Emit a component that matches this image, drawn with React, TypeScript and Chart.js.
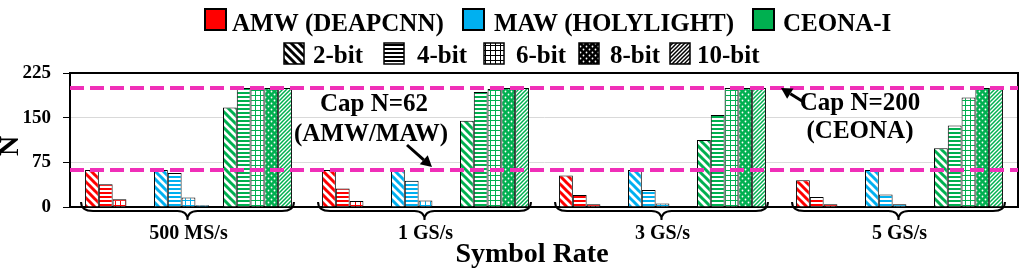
import React, { useEffect, useRef } from 'react';
import { Chart, registerables } from 'chart.js';

Chart.register(...registerables);

const SERIF = '"Liberation Serif", "Times New Roman", serif';

const categories = ['500 MS/s', '1 GS/s', '3 GS/s', '5 GS/s'];
const bitLabels = ['2-bit', '4-bit', '6-bit', '8-bit', '10-bit'];
const methodLabels = ['AMW (DEAPCNN)', 'MAW (HOLYLIGHT)', 'CEONA-I'];
const methodColors = ['#FF0000', '#00B0F0', '#00B050'];

// AMW (DEAPCNN)
const amw2 = [62, 62, 53, 45];
const amw4 = [38, 31, 20, 17];
const amw6 = [13, 10, 4.5, 4.5];
const amw8 = [0, 0, 0, 0];
const amw10 = [0, 0, 0, 0];
// MAW (HOLYLIGHT)
const maw2 = [62, 62, 62, 62];
const maw4 = [57, 44, 28.5, 21];
const maw6 = [16, 11, 6, 4.5];
const maw8 = [3, 0, 0, 0];
const maw10 = [0, 0, 0, 0];
// CEONA-I
const ceona2 = [167, 145, 112.5, 98.5];
const ceona4 = [200, 193, 154.5, 137];
const ceona6 = [200, 198, 200, 184];
const ceona8 = [200, 200, 200, 200];
const ceona10 = [200, 200, 200, 200];

const yTicks = [0, 75, 150, 225];
const capAMW = 62;
const capCEONA = 200;
const CAP_COLOR = '#F02FB8';

const seriesTable = [
  [amw2, amw4, amw6, amw8, amw10],
  [maw2, maw4, maw6, maw8, maw10],
  [ceona2, ceona4, ceona6, ceona8, ceona10],
];

function makeTile(size: number, draw: (g: CanvasRenderingContext2D, s: number) => void) {
  const c = document.createElement('canvas');
  c.width = size;
  c.height = size;
  const g = c.getContext('2d')!;
  draw(g, size);
  return c;
}

function makePattern(ctx: CanvasRenderingContext2D, kind: number, color: string): CanvasPattern {
  let tile: HTMLCanvasElement;
  if (kind === 0) {
    tile = makeTile(8, (g, s) => {
      g.fillStyle = '#fff';
      g.fillRect(0, 0, s, s);
      g.strokeStyle = color;
      g.lineWidth = 3;
      g.beginPath();
      for (const k of [-s, 0, s]) {
        g.moveTo(k - 1, -1);
        g.lineTo(k + s + 1, s + 1);
      }
      g.stroke();
    });
  } else if (kind === 1) {
    tile = makeTile(4, (g, s) => {
      g.fillStyle = '#fff';
      g.fillRect(0, 0, s, s);
      g.fillStyle = color;
      g.fillRect(0, 0, s, 2);
    });
  } else if (kind === 2) {
    tile = makeTile(5, (g, s) => {
      g.fillStyle = '#fff';
      g.fillRect(0, 0, s, s);
      g.fillStyle = color;
      g.fillRect(0, 0, s, 1);
      g.fillRect(0, 0, 1, s);
    });
  } else if (kind === 3) {
    tile = makeTile(6, (g, s) => {
      g.fillStyle = color;
      g.fillRect(0, 0, s, s);
      g.fillStyle = '#fff';
      g.beginPath();
      g.arc(1.5, 1.5, 0.9, 0, Math.PI * 2);
      g.arc(4.5, 4.5, 0.9, 0, Math.PI * 2);
      g.fill();
    });
  } else {
    tile = makeTile(4, (g, s) => {
      g.fillStyle = '#fff';
      g.fillRect(0, 0, s, s);
      g.strokeStyle = color;
      g.lineWidth = 1.5;
      g.beginPath();
      for (const k of [-s, 0, s]) {
        g.moveTo(k - 1, s + 1);
        g.lineTo(k + s + 1, -1);
      }
      g.stroke();
    });
  }
  return ctx.createPattern(tile, 'repeat')!;
}

function arrow(ctx: CanvasRenderingContext2D, x0: number, y0: number, x1: number, y1: number) {
  const ang = Math.atan2(y1 - y0, x1 - x0);
  const hl = 11;
  const hw = 6;
  const bx = x1 - hl * Math.cos(ang);
  const by = y1 - hl * Math.sin(ang);
  ctx.strokeStyle = '#000';
  ctx.fillStyle = '#000';
  ctx.lineWidth = 3;
  ctx.beginPath();
  ctx.moveTo(x0, y0);
  ctx.lineTo(bx, by);
  ctx.stroke();
  ctx.beginPath();
  ctx.moveTo(x1, y1);
  ctx.lineTo(bx + hw * Math.sin(ang), by - hw * Math.cos(ang));
  ctx.lineTo(bx - hw * Math.sin(ang), by + hw * Math.cos(ang));
  ctx.closePath();
  ctx.fill();
}

const CAT_PCT = 0.873;

export default function App() {
  const ref = useRef<HTMLCanvasElement>(null);

  useEffect(() => {
    const canvas = ref.current!;
    const ctx = canvas.getContext('2d')!;

    const datasets: any[] = [];
    seriesTable.forEach((row, m) => {
      row.forEach((vals, b) => {
        datasets.push({
          label: `${methodLabels[m]} ${bitLabels[b]}`,
          data: vals,
          backgroundColor: makePattern(ctx, b, methodColors[m]),
          borderColor: '#000',
          borderWidth: 1,
          categoryPercentage: CAT_PCT,
          barPercentage: 1,
        });
      });
    });

    const blackPatterns = bitLabels.map((_, b) => makePattern(ctx, b, '#000'));

    const extras = {
      id: 'extras',
      afterDraw(chart: any) {
        const c: CanvasRenderingContext2D = chart.ctx;
        const a = chart.chartArea;
        const xs = chart.scales.x;
        const ys = chart.scales.y;
        c.save();

        // frame top/right
        c.strokeStyle = '#000';
        c.lineWidth = 2;
        c.beginPath();
        c.moveTo(a.left - 1, a.top);
        c.lineTo(a.right, a.top);
        c.lineTo(a.right, a.bottom);
        c.stroke();

        // dashed cap lines
        c.strokeStyle = CAP_COLOR;
        c.lineWidth = 4;
        c.setLineDash([14, 6]);
        for (const v of [capAMW, capCEONA]) {
          const y = ys.getPixelForValue(v);
          c.beginPath();
          c.moveTo(a.left, y);
          c.lineTo(a.right, y);
          c.stroke();
        }
        c.setLineDash([]);

        // braces under categories
        const catW = (a.right - a.left) / categories.length;
        const half = (catW * CAT_PCT) / 2 + 3;
        const yb = a.bottom;
        c.strokeStyle = '#000';
        c.lineWidth = 2;
        categories.forEach((_, i) => {
          const xm = xs.getPixelForValue(i) - 1;
          const x0 = xm - half;
          const x1 = xm + half;
          const yt = yb - 5;
          const yh = yb + 4;
          const yp = yb + 13;
          c.beginPath();
          c.moveTo(x0, yt);
          c.quadraticCurveTo(x0, yh, x0 + 12, yh);
          c.lineTo(xm - 10, yh);
          c.quadraticCurveTo(xm, yh, xm, yp);
          c.quadraticCurveTo(xm, yh, xm + 10, yh);
          c.lineTo(x1 - 12, yh);
          c.quadraticCurveTo(x1, yh, x1, yt);
          c.stroke();
        });

        // annotations
        c.fillStyle = '#000';
        c.font = `bold 25px ${SERIF}`;
        c.textAlign = 'center';
        c.textBaseline = 'alphabetic';
        c.fillText('Cap N=62', 374, 111);
        c.fillText('(AMW/MAW)', 371, 141);
        c.fillText('Cap N=200', 860, 110);
        c.fillText('(CEONA)', 860, 138);
        const yAmw = ys.getPixelForValue(capAMW);
        const yCeo = ys.getPixelForValue(capCEONA);
        arrow(c, 407, 145, 432, yAmw - 3);
        arrow(c, 802, 101, 781, yCeo);

        // y title
        c.save();
        c.translate(18, 146);
        c.rotate(-Math.PI / 2);
        c.font = `bold 28px ${SERIF}`;
        c.textAlign = 'center';
        c.fillText('N', 0, 0);
        c.restore();

        // x title
        c.font = `bold 28px ${SERIF}`;
        c.textAlign = 'center';
        c.fillText('Symbol Rate', 532, 262);

        // legend row 1
        const row1Box = [204, 462, 752];
        const row1Text = [232, 494, 783];
        c.textAlign = 'left';
        c.font = `bold 25px ${SERIF}`;
        methodLabels.forEach((lab, m) => {
          c.fillStyle = methodColors[m];
          c.fillRect(row1Box[m] + 1, 9, 21, 21);
          c.strokeStyle = '#000';
          c.lineWidth = 2;
          c.strokeRect(row1Box[m] + 1, 9, 21, 21);
          c.fillStyle = '#000';
          c.fillText(lab, row1Text[m], 31);
        });

        // legend row 2
        const row2Box = [284, 384, 484, 579, 670];
        const row2Text = [313, 417, 516, 610, 697];
        bitLabels.forEach((lab, b) => {
          c.fillStyle = blackPatterns[b];
          c.fillRect(row2Box[b], 43, 20, 21);
          c.strokeStyle = '#000';
          c.lineWidth = 1.5;
          c.strokeRect(row2Box[b], 43, 20, 21);
          c.fillStyle = '#000';
          c.fillText(lab, row2Text[b], 63);
        });

        c.restore();
      },
    };

    const chart = new Chart(ctx, {
      type: 'bar',
      data: { labels: categories, datasets },
      options: {
        responsive: false,
        animation: false,
        layout: { padding: { top: 73, right: 4, left: 0, bottom: 0 } },
        plugins: { legend: { display: false }, tooltip: { enabled: false } },
        scales: {
          x: {
            grid: { display: false, drawTicks: false },
            border: { color: '#000', width: 2 },
            ticks: {
              font: { family: SERIF, size: 20, weight: 'bold' },
              color: '#000',
              padding: 15,
              maxRotation: 0,
              autoSkip: false,
            },
            afterFit: (s: any) => {
              s.height = 63;
            },
          },
          y: {
            min: 0,
            max: 225,
            afterBuildTicks: (s: any) => {
              s.ticks = yTicks.map((v) => ({ value: v }));
            },
            ticks: {
              font: { family: SERIF, size: 19, weight: 'bold' },
              color: '#000',
              padding: 12,
            },
            grid: {
              color: (g: any) =>
                g.tick && (g.tick.value === 75 || g.tick.value === 150) ? '#d9d9d9' : 'rgba(0,0,0,0)',
              tickColor: '#000',
              tickLength: 7,
              lineWidth: 1,
            },
            border: { color: '#000', width: 2 },
            afterFit: (s: any) => {
              s.width = 70;
            },
          },
        },
      } as any,
      plugins: [extras],
    });

    return () => chart.destroy();
  }, []);

  return (
    <div style={{ position: 'absolute', left: 0, top: 0, width: 1022, height: 270, background: '#fff' }}>
      <canvas ref={ref} width={1022} height={270} style={{ display: 'block' }} />
    </div>
  );
}
